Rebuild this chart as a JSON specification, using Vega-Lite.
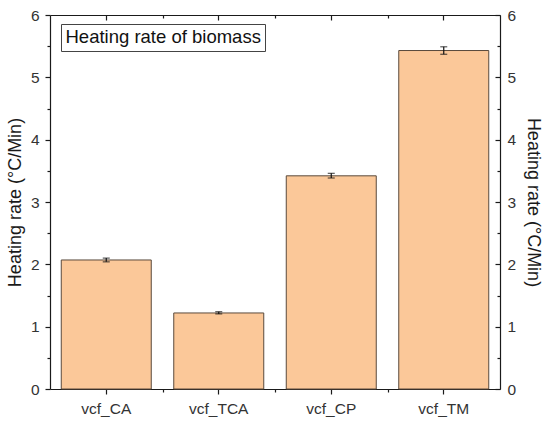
{
  "$schema": "https://vega.github.io/schema/vega-lite/v6.json",
  "width": 450,
  "height": 374,
  "autosize": "none",
  "padding": {"left": 50, "top": 15, "right": 50, "bottom": 36},
  "config": {
    "font": "Liberation Sans",
    "view": {"stroke": null},
    "axis": {
      "grid": false,
      "domainColor": "#1a1a1a",
      "domainWidth": 1.2,
      "tickColor": "#1a1a1a",
      "tickWidth": 1.2,
      "labelColor": "#333333",
      "labelFontSize": 15.5,
      "titleColor": "#1a1a1a",
      "titleFontSize": 18,
      "titleFontWeight": "normal"
    }
  },
  "data": {
    "values": [
      {"sample": "vcf_CA", "rate": 2.07, "lo": 2.04, "hi": 2.1},
      {"sample": "vcf_TCA", "rate": 1.22, "lo": 1.205, "hi": 1.24},
      {"sample": "vcf_CP", "rate": 3.42, "lo": 3.385, "hi": 3.46},
      {"sample": "vcf_TM", "rate": 5.43, "lo": 5.37, "hi": 5.49}
    ]
  },
  "resolve": {
    "scale": {"x": "independent"},
    "axis": {"x": "independent", "y": "independent"}
  },
  "layer": [
    {
      "mark": {"type": "bar", "stroke": "#5a4a3c", "strokeWidth": 1},
      "encoding": {
        "x": {
          "field": "sample",
          "type": "nominal",
          "sort": null,
          "scale": {"paddingInner": 0.2, "paddingOuter": 0.1},
          "axis": {
            "orient": "bottom",
            "title": null,
            "labelAngle": 0,
            "tickSize": 5,
            "labelPadding": 7
          }
        },
        "y": {
          "field": "rate",
          "type": "quantitative",
          "scale": {"domain": [0, 6], "nice": false},
          "axis": {
            "orient": "left",
            "title": "Heating rate (°C/Min)",
            "values": [0, 0.5, 1, 1.5, 2, 2.5, 3, 3.5, 4, 4.5, 5, 5.5, 6],
            "labelExpr": "datum.value % 1 ? '' : format(datum.value, 'd')",
            "tickSize": {"condition": {"test": "datum.value % 1 !== 0", "value": 3}, "value": 5},
            "labelPadding": 6,
            "titlePadding": 6
          }
        },
        "fill": {
          "datum": "Heating rate of biomass",
          "type": "nominal",
          "scale": {"range": ["#fbc899"]},
          "legend": {
            "title": null,
            "orient": "none",
            "legendX": 11,
            "legendY": 9,
            "strokeColor": "#444444",
            "padding": 4,
            "labelFontSize": 18.5,
            "labelLimit": 400,
            "labelColor": "#111111",
            "labelOffset": -18,
            "symbolSize": 1,
            "symbolOpacity": 0,
            "symbolStrokeWidth": 0
          }
        }
      }
    },
    {
      "mark": {"type": "rule", "color": "#111111", "strokeWidth": 1.2},
      "encoding": {
        "x": {
          "field": "sample",
          "type": "nominal",
          "sort": null,
          "scale": {"paddingInner": 0.2, "paddingOuter": 0.1},
          "axis": {
            "orient": "top",
            "title": null,
            "labels": false,
            "tickSize": -5
          }
        },
        "y": {
          "field": "lo",
          "type": "quantitative",
          "axis": {
            "orient": "right",
            "title": "Heating rate (°C/Min)",
            "values": [0, 0.5, 1, 1.5, 2, 2.5, 3, 3.5, 4, 4.5, 5, 5.5, 6],
            "labelExpr": "datum.value % 1 ? '' : format(datum.value, 'd')",
            "tickSize": {"condition": {"test": "datum.value % 1 !== 0", "value": -3}, "value": -5},
            "labelPadding": 12,
            "titlePadding": 8
          }
        },
        "y2": {"field": "hi"}
      }
    },
    {
      "mark": {"type": "tick", "color": "#111111", "thickness": 1.2, "size": 7},
      "encoding": {
        "x": {
          "field": "sample",
          "type": "nominal",
          "sort": null,
          "scale": {"paddingInner": 0.2, "paddingOuter": 0.1},
          "axis": null
        },
        "y": {"field": "lo", "type": "quantitative", "axis": null}
      }
    },
    {
      "mark": {"type": "tick", "color": "#111111", "thickness": 1.2, "size": 7},
      "encoding": {
        "x": {
          "field": "sample",
          "type": "nominal",
          "sort": null,
          "scale": {"paddingInner": 0.2, "paddingOuter": 0.1},
          "axis": null
        },
        "y": {"field": "hi", "type": "quantitative", "axis": null}
      }
    },
    {
      "mark": {"type": "point", "opacity": 0},
      "encoding": {
        "x": {
          "datum": 0,
          "type": "quantitative",
          "scale": {"domain": [0, 4], "nice": false, "zero": false},
          "axis": {
            "orient": "bottom",
            "title": null,
            "values": [1, 2, 3],
            "labels": false,
            "domain": false,
            "tickSize": 3
          }
        }
      }
    },
    {
      "mark": {"type": "point", "opacity": 0},
      "encoding": {
        "x": {
          "datum": 0,
          "type": "quantitative",
          "scale": {"domain": [0, 4], "nice": false, "zero": false},
          "axis": {
            "orient": "top",
            "title": null,
            "values": [1, 2, 3],
            "labels": false,
            "domain": false,
            "tickSize": -3
          }
        }
      }
    }
  ]
}
